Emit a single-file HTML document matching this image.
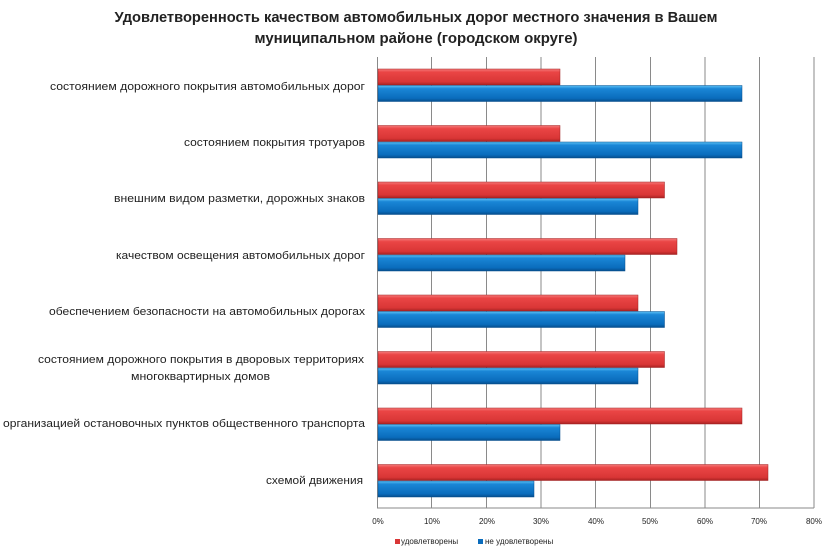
<!DOCTYPE html>
<html><head><meta charset="utf-8"><style>body{margin:0;background:#fff}svg{display:block}</style></head>
<body>
<svg width="832" height="552" xmlns="http://www.w3.org/2000/svg" font-family="Liberation Sans, sans-serif">
<defs>
<linearGradient id="r" x1="0" y1="0" x2="0" y2="1"><stop offset="0" stop-color="#f47a7a"/><stop offset="0.2" stop-color="#ea4545"/><stop offset="0.8" stop-color="#d93636"/><stop offset="1" stop-color="#a82222"/></linearGradient>
<linearGradient id="b" x1="0" y1="0" x2="0" y2="1"><stop offset="0" stop-color="#5cc0f5"/><stop offset="0.2" stop-color="#1a86d6"/><stop offset="0.8" stop-color="#0a6cbc"/><stop offset="1" stop-color="#064e8c"/></linearGradient>
</defs>
<text x="416" y="22" text-anchor="middle" font-size="15" font-weight="bold" fill="#222" textLength="603" lengthAdjust="spacingAndGlyphs">Удовлетворенность качеством автомобильных дорог местного значения  в Вашем</text>
<text x="416" y="43" text-anchor="middle" font-size="15" font-weight="bold" fill="#222" textLength="323" lengthAdjust="spacingAndGlyphs">муниципальном районе (городском округе)</text>
<g stroke="#8a8a8a" stroke-width="1">
<line x1="431.5" y1="57" x2="431.5" y2="508"/><line x1="486.5" y1="57" x2="486.5" y2="508"/><line x1="541" y1="57" x2="541" y2="508"/><line x1="595.5" y1="57" x2="595.5" y2="508"/><line x1="650.5" y1="57" x2="650.5" y2="508"/><line x1="705" y1="57" x2="705" y2="508"/><line x1="759.5" y1="57" x2="759.5" y2="508"/><line x1="814" y1="57" x2="814" y2="508"/>
<line x1="377.5" y1="57" x2="377.5" y2="508"/><line x1="377" y1="508" x2="814" y2="508"/>
</g>
<g stroke-width="0.5">
<rect x="378" y="69" width="182" height="16" fill="url(#r)" stroke="#a02020"/><rect x="378" y="85.5" width="364" height="16" fill="url(#b)" stroke="#064e8c"/>
<rect x="378" y="125.5" width="182" height="16" fill="url(#r)" stroke="#a02020"/><rect x="378" y="142" width="364" height="16" fill="url(#b)" stroke="#064e8c"/>
<rect x="378" y="182" width="286.5" height="16" fill="url(#r)" stroke="#a02020"/><rect x="378" y="198.5" width="260" height="16" fill="url(#b)" stroke="#064e8c"/>
<rect x="378" y="238.5" width="299" height="16" fill="url(#r)" stroke="#a02020"/><rect x="378" y="255" width="247" height="16" fill="url(#b)" stroke="#064e8c"/>
<rect x="378" y="295" width="260" height="16" fill="url(#r)" stroke="#a02020"/><rect x="378" y="311.5" width="286.5" height="16" fill="url(#b)" stroke="#064e8c"/>
<rect x="378" y="351.5" width="286.5" height="16" fill="url(#r)" stroke="#a02020"/><rect x="378" y="368" width="260" height="16" fill="url(#b)" stroke="#064e8c"/>
<rect x="378" y="408" width="364" height="16" fill="url(#r)" stroke="#a02020"/><rect x="378" y="424.5" width="182" height="16" fill="url(#b)" stroke="#064e8c"/>
<rect x="378" y="464.5" width="390" height="16" fill="url(#r)" stroke="#a02020"/><rect x="378" y="481" width="156" height="16" fill="url(#b)" stroke="#064e8c"/>
</g>
<g font-size="11" fill="#222" text-anchor="end" lengthAdjust="spacingAndGlyphs">
<text x="365" y="90" textLength="315" lengthAdjust="spacingAndGlyphs">состоянием дорожного покрытия автомобильных дорог</text>
<text x="365" y="146" textLength="181" lengthAdjust="spacingAndGlyphs">состоянием покрытия тротуаров</text>
<text x="365" y="202" textLength="251" lengthAdjust="spacingAndGlyphs">внешним  видом разметки, дорожных знаков</text>
<text x="365" y="259" textLength="249" lengthAdjust="spacingAndGlyphs">качеством освещения автомобильных дорог</text>
<text x="365" y="315" textLength="316" lengthAdjust="spacingAndGlyphs">обеспечением  безопасности на автомобильных дорогах</text>
<text x="364" y="363" textLength="326" lengthAdjust="spacingAndGlyphs">состоянием дорожного покрытия в дворовых территориях</text>
<text x="270" y="380" textLength="139" lengthAdjust="spacingAndGlyphs">многоквартирных домов</text>
<text x="365" y="427" textLength="362" lengthAdjust="spacingAndGlyphs">организацией остановочных пунктов общественного транспорта</text>
<text x="363" y="484" textLength="97" lengthAdjust="spacingAndGlyphs">схемой движения</text>
</g>
<g font-size="8" fill="#222" text-anchor="middle">
<text x="378" y="524">0%</text><text x="432" y="524">10%</text><text x="487" y="524">20%</text><text x="541" y="524">30%</text><text x="596" y="524">40%</text><text x="650" y="524">50%</text><text x="705" y="524">60%</text><text x="759" y="524">70%</text><text x="814" y="524">80%</text>
</g>
<rect x="395" y="539" width="5" height="5" fill="#d93636"/>
<text x="401" y="544" font-size="8" fill="#222">удовлетворены</text>
<rect x="478" y="539" width="5" height="5" fill="#0a6cbc"/>
<text x="485" y="544" font-size="8" fill="#222">не удовлетворены</text>
</svg>
</body></html>
